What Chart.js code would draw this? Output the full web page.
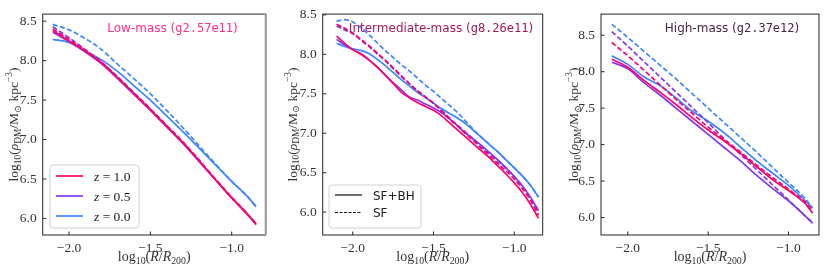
<!DOCTYPE html>
<html>
<head>
<meta charset="utf-8">
<script src="https://cdn.jsdelivr.net/npm/chart.js@4.4.1/dist/chart.umd.min.js"></script>
<style>
  html, body { margin: 0; padding: 0; background: #fff; }
  #wrap { position: relative; width: 830px; height: 273px; }
  canvas { position: absolute; top: 0; }
</style>
</head>
<body>
<div id="wrap">
  <canvas id="c1" width="277" height="273" style="left:0px"></canvas>
  <canvas id="c2" width="277" height="273" style="left:277px"></canvas>
  <canvas id="c3" width="276" height="273" style="left:554px"></canvas>
</div>
<script>
// ---- data ----
const xTicks = [-2.0, -1.5, -1.0];
const yTicks = [6.0, 6.5, 7.0, 7.5, 8.0, 8.5];
const zLabels = ['1.0', '0.5', '0.0'];

// low-mass halo
const xLow = [-2.1, -2.0, -1.9, -1.8, -1.7, -1.6, -1.5, -1.4, -1.3, -1.2, -1.1, -1.0, -0.9, -0.85];
const low_z10_sfbh = [8.38, 8.25, 8.12, 7.97, 7.78, 7.58, 7.38, 7.17, 6.96, 6.73, 6.49, 6.26, 6.04, 5.92];
const low_z10_sf   = [8.40, 8.27, 8.13, 7.98, 7.79, 7.59, 7.39, 7.18, 6.97, 6.74, 6.50, 6.27, 6.05, 5.93];
const low_z05_sfbh = [8.36, 8.24, 8.11, 7.96, 7.77, 7.57, 7.37, 7.16, 6.95, 6.72, 6.49, 6.26, 6.05, 5.93];
const low_z05_sf   = [8.43, 8.29, 8.14, 7.98, 7.79, 7.59, 7.38, 7.17, 6.96, 6.73, 6.49, 6.26, 6.05, 5.93];
const low_z00_sfbh = [8.27, 8.23, 8.12, 8.01, 7.86, 7.68, 7.50, 7.30, 7.10, 6.89, 6.68, 6.47, 6.27, 6.15];
const low_z00_sf   = [8.46, 8.39, 8.28, 8.14, 7.95, 7.77, 7.58, 7.37, 7.15, 6.92, 6.69, 6.47, 6.27, 6.15];

// intermediate-mass halo
const xMid = [-2.1, -2.05, -2.0, -1.95, -1.9, -1.85, -1.8, -1.75, -1.7, -1.65, -1.6, -1.55, -1.5,
              -1.45, -1.4, -1.35, -1.3, -1.25, -1.2, -1.15, -1.1, -1.05, -1.0, -0.95, -0.9, -0.85];
const mid_z10_sfbh = [8.23, 8.14, 8.06, 8.00, 7.93, 7.84, 7.74, 7.63, 7.52, 7.45, 7.39, 7.34, 7.29,
                      7.22, 7.13, 7.04, 6.95, 6.86, 6.77, 6.68, 6.58, 6.48, 6.37, 6.25, 6.10, 5.92];
const mid_z10_sf   = [8.38, 8.33, 8.27, 8.19, 8.11, 8.02, 7.93, 7.83, 7.73, 7.63, 7.54, 7.46, 7.38,
                      7.28, 7.18, 7.09, 6.99, 6.90, 6.80, 6.71, 6.61, 6.52, 6.42, 6.30, 6.15, 5.96];
const mid_z05_sfbh = [8.19, 8.12, 8.06, 8.01, 7.93, 7.84, 7.74, 7.64, 7.55, 7.46, 7.42, 7.37, 7.32,
                      7.26, 7.18, 7.09, 7.00, 6.92, 6.84, 6.75, 6.66, 6.56, 6.45, 6.33, 6.19, 6.02];
const mid_z05_sf   = [8.36, 8.31, 8.26, 8.18, 8.10, 8.01, 7.92, 7.82, 7.72, 7.63, 7.54, 7.46, 7.38,
                      7.29, 7.19, 7.10, 7.01, 6.92, 6.82, 6.73, 6.64, 6.55, 6.45, 6.33, 6.18, 6.00];
const mid_z00_sfbh = [8.14, 8.10, 8.07, 8.05, 8.01, 7.94, 7.86, 7.77, 7.68, 7.60, 7.52, 7.45, 7.38,
                      7.31, 7.25, 7.19, 7.12, 7.03, 6.94, 6.85, 6.76, 6.66, 6.56, 6.46, 6.34, 6.19];
const mid_z00_sf   = [8.42, 8.44, 8.41, 8.34, 8.25, 8.15, 8.05, 7.96, 7.87, 7.79, 7.70, 7.61, 7.53,
                      7.44, 7.35, 7.26, 7.15, 7.04, 6.94, 6.85, 6.76, 6.66, 6.56, 6.46, 6.34, 6.19];

// high-mass halo
const xHigh = [-2.1, -2.0, -1.9, -1.8, -1.7, -1.6, -1.5, -1.4, -1.3, -1.2, -1.1, -1.0, -0.9, -0.85];
const high_z10_sfbh = [8.17, 8.06, 7.88, 7.72, 7.55, 7.37, 7.20, 7.05, 6.88, 6.70, 6.52, 6.37, 6.20, 6.06];
const high_z10_sf   = [8.40, 8.22, 8.02, 7.82, 7.62, 7.43, 7.24, 7.07, 6.90, 6.72, 6.55, 6.39, 6.22, 6.10];
const high_z05_sfbh = [8.13, 8.04, 7.85, 7.68, 7.50, 7.32, 7.14, 6.96, 6.78, 6.58, 6.40, 6.23, 6.03, 5.92];
const high_z05_sf   = [8.55, 8.35, 8.14, 7.93, 7.72, 7.51, 7.30, 7.08, 6.87, 6.66, 6.45, 6.24, 6.03, 5.93];
const high_z00_sfbh = [8.22, 8.10, 7.93, 7.81, 7.64, 7.46, 7.32, 7.16, 6.97, 6.78, 6.61, 6.44, 6.24, 6.13];
const high_z00_sf   = [8.65, 8.47, 8.28, 8.09, 7.90, 7.70, 7.50, 7.30, 7.10, 6.90, 6.69, 6.48, 6.27, 6.13];

// ---- styles ----
const zColors = ['#ff006e', '#8338ec', '#3a86ff'];
const SERIF = '"Liberation Serif", "DejaVu Serif", serif';
const SANS = '"DejaVu Sans", sans-serif';
const MONO = '"DejaVu Sans Mono", monospace';
const FRAME = '#262626';

const xLabelParts = [{t: 'log'}, {t: '10', sub: true}, {t: '('}, {t: 'R', it: true}, {t: '/'},
                     {t: 'R', it: true}, {t: '200', sub: true}, {t: ')'}];
const yLabelParts = [{t: 'log'}, {t: '10', sub: true}, {t: '('}, {t: 'ρ', it: true}, {t: 'DM', sub: true},
                     {t: '/M'}, {t: '⊙', sub: true}, {t: ' kpc'}, {t: '−3', sup: true}, {t: ')'}];

// rich text helpers (sub/superscripts, mixed fonts)
function fontFor(p, size) {
    const fam = p.f === 'sans' ? SANS : p.f === 'mono' ? MONO : SERIF;
    const s = (p.sub || p.sup) ? size * 0.7 : size;
    return (p.it ? 'italic ' : '') + s + 'px ' + fam;
}
function richWidth(ctx, parts, size) {
    let w = 0;
    parts.forEach(p => { ctx.font = fontFor(p, size); w += ctx.measureText(p.t).width; });
    return w;
}
function drawRich(ctx, parts, x, y, size, color, align) {
    if (align !== 'left') x -= richWidth(ctx, parts, size) / 2;
    ctx.fillStyle = color;
    ctx.textAlign = 'left';
    ctx.textBaseline = 'alphabetic';
    parts.forEach(p => {
        ctx.font = fontFor(p, size);
        const dy = p.sub ? size * 0.22 : p.sup ? -size * 0.42 : 0;
        ctx.fillText(p.t, x, y + dy);
        x += ctx.measureText(p.t).width;
    });
}

function fmtTick(v) {
    return (v < 0 ? '−' : '') + Math.abs(v).toFixed(1);
}

function series(xs, ys, color, dashed) {
    return {
        data: xs.map((x, i) => ({x: x, y: ys[i]})),
        borderColor: color,
        borderWidth: 1.7,
        borderDash: dashed ? [5, 2.5] : [],
        pointRadius: 0,
        fill: false,
        cubicInterpolationMode: 'monotone'
    };
}

// frame, inward ticks, axis labels, title and legend
function decorPlugin(cfg) {
    return {
        id: 'decor',
        afterDatasetsDraw(chart) {
            const ctx = chart.ctx;
            const a = chart.chartArea;
            const sx = chart.scales.x, sy = chart.scales.y;
            ctx.save();
            ctx.strokeStyle = FRAME;
            ctx.lineWidth = 1;
            ctx.setLineDash([]);
            ctx.strokeRect(a.left, a.top, a.right - a.left, a.bottom - a.top);
            if (cfg.greyRight) {
                // the reference shows a soft grey right spine on the first panel
                ctx.strokeStyle = '#9a9a9a';
                ctx.lineWidth = 2;
                ctx.beginPath();
                ctx.moveTo(a.right, a.top); ctx.lineTo(a.right, a.bottom);
                ctx.stroke();
                ctx.strokeStyle = FRAME;
                ctx.lineWidth = 1;
            }
            ctx.beginPath();
            xTicks.forEach(v => {
                const px = sx.getPixelForValue(v);
                ctx.moveTo(px, a.bottom); ctx.lineTo(px, a.bottom - 3.5);
            });
            yTicks.forEach(v => {
                const py = sy.getPixelForValue(v);
                ctx.moveTo(a.left, py); ctx.lineTo(a.left + 3.5, py);
            });
            ctx.stroke();

            // axis labels
            drawRich(ctx, xLabelParts, (a.left + a.right) / 2, 260.5, 14, '#333');
            ctx.save();
            ctx.translate(cfg.yLabelX, (a.top + a.bottom) / 2);
            ctx.rotate(-Math.PI / 2);
            drawRich(ctx, yLabelParts, 0, 0, 13.5, '#333');
            ctx.restore();

            // title
            drawRich(ctx, [{t: cfg.name + ' (', f: 'sans'}, {t: cfg.tag, f: 'mono'}, {t: ')', f: 'sans'}],
                     cfg.titleX, 32, 12, cfg.titleColor);

            // legend
            if (cfg.legend) {
                const L = cfg.legend;
                ctx.fillStyle = 'rgba(255,255,255,0.8)';
                ctx.strokeStyle = '#d0d0d0';
                ctx.lineWidth = 1;
                ctx.beginPath();
                ctx.roundRect(L.x, L.y, L.w, L.h, 3);
                ctx.fill();
                ctx.stroke();
                L.items.forEach((it, i) => {
                    const y = L.y + L.first + i * L.step;
                    ctx.strokeStyle = it.color;
                    ctx.lineWidth = it.width;
                    ctx.setLineDash(it.dash || []);
                    ctx.beginPath();
                    ctx.moveTo(L.x + 6, y); ctx.lineTo(L.x + 33, y);
                    ctx.stroke();
                    ctx.setLineDash([]);
                    drawRich(ctx, it.parts, L.x + 44, y + 4.5, it.size, '#222', 'left');
                });
            }
            ctx.restore();
        }
    };
}

function makePanel(id, xs, sets, cfg) {
    const canvas = document.getElementById(id);
    const datasets = [];
    sets.forEach((pair, i) => {
        datasets.push(series(xs, pair[0], zColors[i], false));
        datasets.push(series(xs, pair[1], zColors[i], true));
    });
    return new Chart(canvas.getContext('2d'), {
        type: 'line',
        data: { datasets: datasets },
        options: {
            responsive: false,
            animation: false,
            devicePixelRatio: 1,
            layout: { padding: { left: 0, top: cfg.area.top, right: canvas.width - cfg.area.right, bottom: 0 } },
            plugins: { legend: { display: false }, tooltip: { enabled: false } },
            scales: {
                x: {
                    type: 'linear', min: cfg.xRange[0], max: cfg.xRange[1],
                    grid: { display: false, drawTicks: false },
                    border: { display: false },
                    afterBuildTicks: s => { s.ticks = xTicks.map(v => ({value: v})); },
                    afterFit: s => { s.height = canvas.height - cfg.area.bottom; },
                    ticks: { padding: 5, color: '#333', maxRotation: 0, autoSkip: false,
                             font: { family: SERIF, size: 13.5 }, callback: v => fmtTick(v) }
                },
                y: {
                    type: 'linear', min: cfg.yRange[0], max: cfg.yRange[1],
                    grid: { display: false, drawTicks: false },
                    border: { display: false },
                    afterBuildTicks: s => { s.ticks = yTicks.map(v => ({value: v})); },
                    afterFit: s => { s.width = cfg.area.left; },
                    ticks: { padding: 6, color: '#333', autoSkip: false,
                             font: { family: SERIF, size: 13.5 }, callback: v => fmtTick(v) }
                }
            }
        },
        plugins: [decorPlugin(cfg)]
    });
}

const zLegend = {
    x: 50, y: 165, w: 89, h: 63, first: 11, step: 20,
    items: zLabels.map((z, i) => ({
        color: zColors[i], width: 1.7, size: 13.5,
        parts: [{t: 'z', it: true}, {t: ' = ' + z}]
    }))
};
const simLegend = {
    x: 52, y: 185, w: 92, h: 43, first: 10, step: 17.5,
    items: [
        { color: '#555', width: 1.7, size: 12, parts: [{t: 'SF+BH', f: 'sans'}] },
        { color: '#111', width: 1, dash: [3, 1.5], size: 12, parts: [{t: 'SF', f: 'sans'}] }
    ]
};

makePanel('c1', xLow,
    [[low_z10_sfbh, low_z10_sf], [low_z05_sfbh, low_z05_sf], [low_z00_sfbh, low_z00_sf]],
    { area: {left: 42.7, right: 265.7, top: 11, bottom: 235}, xRange: [-2.162, -0.791], yRange: [5.79, 8.59],
      yLabelX: 18, name: 'Low-mass', tag: 'g2.57e11', titleColor: '#ff2d87', titleX: 172.5,
      legend: zLegend, greyRight: true });

makePanel('c2', xMid,
    [[mid_z10_sfbh, mid_z10_sf], [mid_z05_sfbh, mid_z05_sf], [mid_z00_sfbh, mid_z00_sf]],
    { area: {left: 45.7, right: 265.7, top: 11, bottom: 235}, xRange: [-2.186, -0.824], yRange: [5.71, 8.51],
      yLabelX: 19.5, name: 'Intermediate-mass', tag: 'g8.26e11', titleColor: '#a3195b', titleX: 164,
      legend: simLegend });

makePanel('c3', xHigh,
    [[high_z10_sfbh, high_z10_sf], [high_z05_sfbh, high_z05_sf], [high_z00_sfbh, high_z00_sf]],
    { area: {left: 47, right: 265, top: 11, bottom: 235}, xRange: [-2.167, -0.81], yRange: [5.76, 8.79],
      yLabelX: 24, name: 'High-mass', tag: 'g2.37e12', titleColor: '#4b2442', titleX: 178, legend: null });
</script>
</body>
</html>
